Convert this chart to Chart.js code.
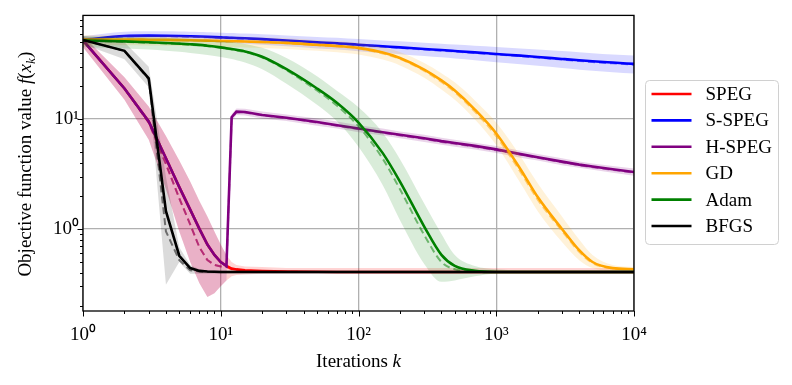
<!DOCTYPE html>
<html>
<head>
<meta charset="utf-8">
<script src="https://cdn.jsdelivr.net/npm/chart.js@4.4.1/dist/chart.umd.min.js"></script>
<style>
  html, body { margin: 0; padding: 0; background: #fff; }
</style>
</head>
<body>
<canvas id="chart" width="792" height="385"></canvas>
<script>
// iteration grid shared by every series (log-spaced sample points)
const iters = [
  1, 2, 3, 4, 5, 6, 7, 8, 9, 10, 11,
  12, 13, 15, 20, 30, 50, 70, 100, 150, 200, 300,
  400, 500, 700, 1000, 1500, 2000, 3000, 4000, 5000, 7000, 10000
];

// SPEG
const spegMean = [
  52, 19, 9.5, 4.4, 2.4, 1.5, 1.0, 0.72, 0.58, 0.5, 0.46,
  0.435, 0.428, 0.42, 0.414, 0.41, 0.407, 0.405, 0.405, 0.405, 0.405, 0.405,
  0.405, 0.405, 0.405, 0.405, 0.405, 0.405, 0.405, 0.405, 0.405, 0.405, 0.405
];
const spegMedian = [
  52, 19, 9.3, 3.9, 1.9, 1.1, 0.68, 0.52, 0.47, 0.455, 0.45,
  0.43, 0.425, 0.418, 0.412, 0.408, 0.405, 0.405, 0.405, 0.405, 0.405, 0.405,
  0.405, 0.405, 0.405, 0.405, 0.405, 0.405, 0.405, 0.405, 0.405, 0.405, 0.405
];
const spegLo = [
  45, 15, 6.5, 2.3, 0.95, 0.5, 0.32, 0.24, 0.26, 0.3, 0.34,
  0.37, 0.38, 0.385, 0.39, 0.39, 0.39, 0.39, 0.39, 0.39, 0.39, 0.39,
  0.39, 0.39, 0.39, 0.39, 0.39, 0.39, 0.39, 0.39, 0.39, 0.39, 0.39
];
const spegHi = [
  57, 24, 13, 7, 4.2, 2.7, 1.8, 1.3, 0.95, 0.72, 0.58,
  0.5, 0.47, 0.455, 0.45, 0.44, 0.44, 0.44, 0.44, 0.44, 0.44, 0.44,
  0.44, 0.44, 0.44, 0.44, 0.44, 0.44, 0.44, 0.44, 0.44, 0.44, 0.44
];

// S-SPEG
const sspegMean = [
  52.5, 57, 57.5, 57.3, 57, 56.7, 56.4, 56.1, 55.8, 55.5, 55.2,
  55, 54.8, 54.4, 53.5, 52, 50, 49, 47.5, 46, 45, 43.5,
  42.5, 41.7, 40.5, 39.2, 37.8, 36.8, 35.3, 34.3, 33.6, 32.7, 31.8
];
const sspegMedian = [
  52.5, 56.5, 57, 56.8, 56.5, 56.2, 55.9, 55.6, 55.3, 55, 54.7,
  54.5, 54.3, 53.9, 53, 51.5, 49.5, 48.5, 47, 45.5, 44.5, 43,
  42, 41.2, 40, 38.7, 37.3, 36.3, 34.8, 33.8, 33.1, 32.2, 31.3
];
const sspegLo = [
  48, 51, 51.5, 51.5, 51, 50.8, 50.5, 50.2, 50, 49.7, 49.4,
  49.2, 49, 48.6, 47.6, 46, 44, 43, 41.5, 40, 39, 37.5,
  36.5, 35.6, 34.4, 33, 31.6, 30.6, 29.2, 28.2, 27.6, 26.7, 26
];
const sspegHi = [
  57, 62.5, 63.2, 63, 62.7, 62.4, 62.1, 61.8, 61.5, 61.2, 60.9,
  60.7, 60.5, 60.1, 59.2, 57.8, 56, 55, 53.5, 52, 51, 49.6,
  48.6, 47.8, 46.6, 45.4, 44, 43, 41.6, 40.6, 39.8, 38.8, 38
];

// H-SPEG
const hspegMean = [
  52, 19, 9.5, 4.4, 2.4, 1.5, 1.0, 0.72, 0.58, 0.5, 0.46,
  10.4, 11.7, 11.6, 10.9, 10.3, 9.4, 8.8, 8.2, 7.6, 7.2, 6.7,
  6.3, 6.05, 5.7, 5.3, 4.8, 4.5, 4.1, 3.85, 3.7, 3.5, 3.3
];
const hspegMedian = [
  52, 19, 9.3, 3.9, 1.9, 1.1, 0.68, 0.52, 0.47, 0.455, 0.45,
  10.2, 11.6, 11.5, 10.8, 10.2, 9.3, 8.7, 8.1, 7.5, 7.1, 6.6,
  6.2, 5.95, 5.6, 5.2, 4.75, 4.45, 4.05, 3.8, 3.65, 3.45, 3.25
];
const hspegLo = [
  45, 15, 6.5, 2.3, 0.95, 0.5, 0.32, 0.24, 0.26, 0.3, 0.34,
  9.6, 10.9, 10.8, 10.1, 9.6, 8.7, 8.2, 7.6, 7.1, 6.7, 6.2,
  5.85, 5.6, 5.3, 4.9, 4.45, 4.2, 3.8, 3.6, 3.45, 3.25, 3.05
];
const hspegHi = [
  57, 24, 13, 7, 4.2, 2.7, 1.8, 1.3, 0.95, 0.72, 0.58,
  11.1, 12.5, 12.4, 11.7, 11.0, 10.1, 9.5, 8.8, 8.2, 7.7, 7.2,
  6.75, 6.5, 6.1, 5.7, 5.15, 4.8, 4.4, 4.1, 3.95, 3.75, 3.55
];

// GD
const gdMean = [
  53, 53, 52.8, 52.6, 52.4, 52.2, 52, 51.8, 51.6, 51.4, 51.3,
  51.2, 51.1, 50.9, 50.3, 49.4, 47.5, 46.3, 44.5, 40.3, 36, 28.2,
  22.5, 18.2, 12.2, 7.4, 3.5, 1.95, 1.0, 0.64, 0.5, 0.44, 0.43
];
const gdMedian = [
  53, 52.8, 52.6, 52.4, 52.2, 52, 51.8, 51.6, 51.4, 51.2, 51.1,
  51, 50.9, 50.7, 50.1, 49.1, 47.1, 45.8, 43.9, 39.6, 35.3, 27.5,
  21.8, 17.6, 11.7, 7.0, 3.3, 1.85, 0.96, 0.62, 0.49, 0.437, 0.43
];
const gdLo = [
  47, 47, 46.8, 46.6, 46.4, 46.2, 46, 45.8, 45.6, 45.4, 45.3,
  45.2, 45.1, 44.9, 44.3, 43.5, 41.8, 40.6, 38.8, 34.8, 30.8, 23.8,
  18.6, 15, 9.9, 5.8, 2.6, 1.45, 0.76, 0.52, 0.44, 0.415, 0.41
];
const gdHi = [
  58, 58, 57.8, 57.6, 57.4, 57.2, 57, 56.8, 56.6, 56.4, 56.3,
  56.2, 56.1, 55.9, 55.3, 54.4, 52.5, 51.3, 49.5, 45.3, 40.8, 32.4,
  26.2, 21.6, 14.8, 9.3, 4.6, 2.6, 1.3, 0.8, 0.58, 0.47, 0.45
];

// Adam
const adamMean = [
  52, 51, 50, 49.3, 48.6, 48, 47.4, 46.6, 45.8, 45, 44.2,
  43.5, 42.7, 41.3, 37, 28.5, 19, 14, 9.3, 4.9, 2.7, 1.05,
  0.58, 0.46, 0.415, 0.405, 0.405, 0.405, 0.405, 0.405, 0.405, 0.405, 0.405
];
const adamMedian = [
  52, 50.5, 49.5, 48.8, 48.1, 47.5, 46.9, 46.1, 45.3, 44.5, 43.7,
  43, 42.2, 40.8, 36.4, 27.8, 18.2, 13.2, 8.6, 4.35, 2.3, 0.88,
  0.5, 0.43, 0.41, 0.405, 0.405, 0.405, 0.405, 0.405, 0.405, 0.405, 0.405
];
const adamLo = [
  45, 44, 43, 42, 41, 40, 39.2, 38.4, 37.6, 36.8, 36,
  35.2, 34.4, 32.8, 28.5, 21, 13.5, 9.5, 5.6, 2.5, 1.2, 0.48,
  0.33, 0.34, 0.37, 0.39, 0.39, 0.39, 0.39, 0.39, 0.39, 0.39, 0.39
];
const adamHi = [
  57, 56, 55.5, 55, 54.5, 54, 53.5, 53, 52.3, 51.6, 51,
  50.3, 49.6, 48.3, 44.5, 36, 24.5, 18, 12.8, 7.5, 4.3, 1.7,
  0.9, 0.58, 0.46, 0.43, 0.42, 0.42, 0.42, 0.42, 0.42, 0.42, 0.42
];

// BFGS
const bfgsMean = [
  52.5, 41.8, 23.5, 1.45, 0.57, 0.44, 0.415, 0.41, 0.407, 0.405, 0.405,
  0.405, 0.405, 0.405, 0.405, 0.405, 0.405, 0.405, 0.405, 0.405, 0.405, 0.405,
  0.405, 0.405, 0.405, 0.405, 0.405, 0.405, 0.405, 0.405, 0.405, 0.405, 0.405
];
const bfgsMedian = [
  52.5, 41.8, 23, 0.95, 0.52, 0.42, 0.41, 0.405, 0.405, 0.405, 0.405,
  0.405, 0.405, 0.405, 0.405, 0.405, 0.405, 0.405, 0.405, 0.405, 0.405, 0.405,
  0.405, 0.405, 0.405, 0.405, 0.405, 0.405, 0.405, 0.405, 0.405, 0.405, 0.405
];
const bfgsLo = [
  48, 35, 19.5, 0.31, 0.5, 0.39, 0.39, 0.39, 0.39, 0.39, 0.39,
  0.39, 0.39, 0.39, 0.39, 0.39, 0.39, 0.39, 0.39, 0.39, 0.39, 0.39,
  0.39, 0.39, 0.39, 0.39, 0.39, 0.39, 0.39, 0.39, 0.39, 0.39, 0.39
];
const bfgsHi = [
  57, 50, 30, 3.0, 0.68, 0.47, 0.43, 0.42, 0.42, 0.42, 0.42,
  0.42, 0.42, 0.42, 0.42, 0.42, 0.42, 0.42, 0.42, 0.42, 0.42, 0.42,
  0.42, 0.42, 0.42, 0.42, 0.42, 0.42, 0.42, 0.42, 0.42, 0.42, 0.42
];

// axes
const xMajor = [1, 10, 100, 1000, 10000];
const yMajor = [1, 10];
const xRange = [1, 10000];
const yRange = [0.179, 87.9];

const FONT = "'Liberation Serif', 'Times New Roman', serif";
const FONT_SIZE = 19;
const SUP = { '0': '\u2070', '1': '\u00b9', '2': '\u00b2', '3': '\u00b3', '4': '\u2074' };

function rgba(rgb, a) {
  return `rgba(${rgb[0]}, ${rgb[1]}, ${rgb[2]}, ${a})`;
}

function pts(arr) {
  return iters.map((x, i) => ({ x: x, y: arr[i] }));
}

function powLabel(v) {
  const e = Math.round(Math.log10(v));
  return '10' + String(e).split('').map(c => SUP[c]).join('');
}

// builds band (lo/hi), dashed median and solid mean for one method
function addMethod(list, label, rgb, series, rank, smooth, bandAlpha) {
  const base = (6 - rank) * 10; // later methods end up on top
  const common = {
    pointRadius: 0,
    pointHoverRadius: 0,
    tension: 0,
    cubicInterpolationMode: smooth ? 'monotone' : 'default'
  };
  list.push({ ...common, data: pts(series.lo), borderWidth: 0, borderColor: 'transparent', fill: false, order: base + 3 });
  list.push({ ...common, data: pts(series.hi), borderWidth: 0, borderColor: 'transparent',
    backgroundColor: rgba(rgb, bandAlpha), fill: '-1', order: base + 3 });
  list.push({ ...common, data: pts(series.median), borderColor: rgba(rgb, 0.5), borderWidth: 2,
    borderDash: [7, 4], fill: false, order: base + 2 });
  list.push({ ...common, label: label, data: pts(series.mean), borderColor: rgba(rgb, 1), borderWidth: 2.6,
    fill: false, order: base + 1, showInLegend: true });
}

const datasets = [];
addMethod(datasets, 'SPEG', [255, 0, 0], { mean: spegMean, median: spegMedian, lo: spegLo, hi: spegHi }, 0, false, 0.17);
addMethod(datasets, 'S-SPEG', [0, 0, 255], { mean: sspegMean, median: sspegMedian, lo: sspegLo, hi: sspegHi }, 1, true, 0.15);
addMethod(datasets, 'H-SPEG', [128, 0, 128], { mean: hspegMean, median: hspegMedian, lo: hspegLo, hi: hspegHi }, 2, false, 0.17);
addMethod(datasets, 'GD', [255, 165, 0], { mean: gdMean, median: gdMedian, lo: gdLo, hi: gdHi }, 3, true, 0.15);
addMethod(datasets, 'Adam', [0, 128, 0], { mean: adamMean, median: adamMedian, lo: adamLo, hi: adamHi }, 4, true, 0.15);
addMethod(datasets, 'BFGS', [0, 0, 0], { mean: bfgsMean, median: bfgsMedian, lo: bfgsLo, hi: bfgsHi }, 5, false, 0.14);

function hline(ctx, x1, y1, x2, y2) {
  ctx.beginPath();
  ctx.moveTo(x1, y1);
  ctx.lineTo(x2, y2);
  ctx.stroke();
}

// tick marks (major + minor) and the black frame, matplotlib style
const axisDecor = {
  id: 'axisDecor',
  afterDraw(chart) {
    const { ctx, chartArea: a, scales: { x, y } } = chart;
    ctx.save();
    ctx.strokeStyle = '#000';
    ctx.lineWidth = 1;
    const xMinor = [];
    [1, 10, 100, 1000].forEach(d => { for (let m = 2; m <= 9; m++) xMinor.push(d * m); });
    const yMinor = [];
    [0.1, 1, 10].forEach(d => { for (let m = 2; m <= 9; m++) { const v = d * m; if (v > yRange[0] && v < yRange[1]) yMinor.push(v); } });

    xMajor.forEach(v => { const p = Math.round(x.getPixelForValue(v)) + 0.5; hline(ctx, p, a.bottom, p, a.bottom + 5.5); });
    xMinor.forEach(v => { const p = Math.round(x.getPixelForValue(v)) + 0.5; hline(ctx, p, a.bottom, p, a.bottom + 3); });
    yMajor.forEach(v => { const p = Math.round(y.getPixelForValue(v)) + 0.5; hline(ctx, a.left, p, a.left - 5.5, p); });
    yMinor.forEach(v => { const p = Math.round(y.getPixelForValue(v)) + 0.5; hline(ctx, a.left, p, a.left - 3, p); });

    ctx.lineWidth = 1.3;
    ctx.strokeRect(a.left, a.top, a.right - a.left, a.bottom - a.top);
    ctx.restore();
  }
};

// axis titles with italic math parts
function drawRuns(ctx, runs, cx, baseY, size) {
  const fontOf = r => `${r.italic ? 'italic ' : ''}${r.sub ? size * 0.7 : size}px ${FONT}`;
  let total = 0;
  runs.forEach(r => { ctx.font = fontOf(r); r.w = ctx.measureText(r.t).width; total += r.w; });
  let x = cx - total / 2;
  ctx.textBaseline = 'alphabetic';
  ctx.textAlign = 'left';
  runs.forEach(r => {
    ctx.font = fontOf(r);
    ctx.fillText(r.t, x, baseY + (r.sub ? size * 0.22 : 0));
    x += r.w;
  });
}

const axisTitles = {
  id: 'axisTitles',
  afterDraw(chart) {
    const { ctx, chartArea: a } = chart;
    ctx.save();
    ctx.fillStyle = '#000';
    drawRuns(ctx, [{ t: 'Iterations ' }, { t: 'k', italic: true }], (a.left + a.right) / 2, 366.5, FONT_SIZE);
    ctx.translate(31, (a.top + a.bottom) / 2 + 1);
    ctx.rotate(-Math.PI / 2);
    drawRuns(ctx, [
      { t: 'Objective function value ' },
      { t: 'f', italic: true },
      { t: '(' },
      { t: 'x', italic: true },
      { t: 'k', italic: true, sub: true },
      { t: ')' }
    ], 0, 0, FONT_SIZE);
    ctx.restore();
  }
};

// framed legend outside the axes, on the right
const boxLegend = {
  id: 'boxLegend',
  afterDraw(chart) {
    const { ctx, chartArea: a } = chart;
    const items = chart.data.datasets.filter(d => d.showInLegend);
    const x0 = a.right + 11.5, y0 = 80.5, w = 133, h = 164, r = 4;
    ctx.save();
    ctx.beginPath();
    ctx.moveTo(x0 + r, y0);
    ctx.arcTo(x0 + w, y0, x0 + w, y0 + h, r);
    ctx.arcTo(x0 + w, y0 + h, x0, y0 + h, r);
    ctx.arcTo(x0, y0 + h, x0, y0, r);
    ctx.arcTo(x0, y0, x0 + w, y0, r);
    ctx.closePath();
    ctx.fillStyle = 'rgba(255,255,255,0.8)';
    ctx.fill();
    ctx.strokeStyle = '#d0d0d0';
    ctx.lineWidth = 1;
    ctx.stroke();

    ctx.font = `${FONT_SIZE}px ${FONT}`;
    ctx.textBaseline = 'middle';
    ctx.textAlign = 'left';
    items.forEach((d, i) => {
      const cy = 94 + i * 26.4;
      ctx.strokeStyle = d.borderColor;
      ctx.lineWidth = 2.6;
      hline(ctx, x0 + 6, cy, x0 + 46, cy);
      ctx.fillStyle = '#000';
      ctx.fillText(d.label, x0 + 60, cy + 1);
    });
    ctx.restore();
  }
};

new Chart(document.getElementById('chart'), {
  type: 'line',
  data: { datasets: datasets },
  options: {
    responsive: false,
    animation: false,
    devicePixelRatio: 1,
    events: [],
    layout: { padding: { top: 13, right: 158, left: 0, bottom: 0 } },
    plugins: {
      legend: { display: false },
      tooltip: { enabled: false }
    },
    scales: {
      x: {
        type: 'logarithmic',
        min: xRange[0],
        max: xRange[1],
        grid: { color: '#b0b0b0', lineWidth: 1.3, drawTicks: false },
        border: { display: false },
        ticks: {
          color: '#000',
          font: { family: FONT, size: FONT_SIZE },
          padding: 13,
          maxRotation: 0,
          autoSkip: false,
          callback: v => powLabel(v)
        },
        afterBuildTicks: s => { s.ticks = xMajor.map(v => ({ value: v })); },
        afterFit: s => { s.height = 74; }
      },
      y: {
        type: 'logarithmic',
        min: yRange[0],
        max: yRange[1],
        grid: { color: '#b0b0b0', lineWidth: 1.3, drawTicks: false },
        border: { display: false },
        ticks: {
          color: '#000',
          font: { family: FONT, size: FONT_SIZE },
          padding: 4,
          autoSkip: false,
          callback: v => powLabel(v)
        },
        afterBuildTicks: s => { s.ticks = yMajor.map(v => ({ value: v })); },
        afterFit: s => { s.width = 83; }
      }
    }
  },
  plugins: [axisDecor, axisTitles, boxLegend]
});
</script>
</body>
</html>
